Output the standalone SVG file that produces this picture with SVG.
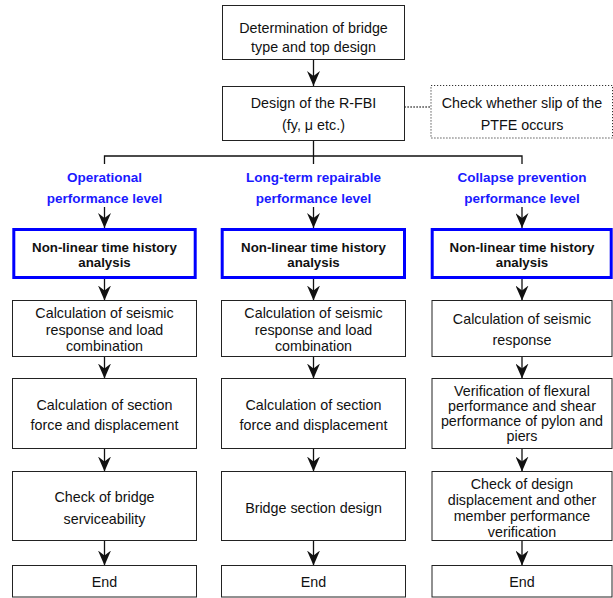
<svg xmlns="http://www.w3.org/2000/svg" width="613" height="598" viewBox="0 0 613 598">
<style>
.box{fill:#fff;stroke:#222;stroke-width:1}
.blue{fill:#fff;stroke:#0000ff;stroke-width:3}
.dot{fill:#fff;stroke:#333;stroke-width:1;stroke-dasharray:1.2 1.8}
.t{font-family:"Liberation Sans",Arial,sans-serif;font-size:14.3px;fill:#111;text-anchor:middle}
.b{font-family:"Liberation Sans",Arial,sans-serif;font-size:13.3px;font-weight:bold;fill:#111;text-anchor:middle}
.h{font-family:"Liberation Sans",Arial,sans-serif;font-size:13.5px;font-weight:bold;fill:#1a1aff;text-anchor:middle}
.ln{fill:none;stroke:#111;stroke-width:1.3}
.ar{fill:none;stroke:#111;stroke-width:1.3;marker-end:url(#ah)}
</style>
<defs>
<marker id="ah" markerUnits="userSpaceOnUse" markerWidth="15" markerHeight="13" viewBox="0 0 15 13" refX="15" refY="6.5" orient="auto">
<path d="M15,6.5 L0,0 L5,6.5 L0,13 Z" fill="#111"/>
</marker>
</defs>
<rect width="613" height="598" fill="#fff"/>
<g id="connectors">
<path class="ar" d="M313.5,59.5 V86"/>
<path class="ln" d="M404.5,107 H431" stroke-dasharray="1.2 1.8"/>
<path class="ln" d="M313.5,140.5 V164 M104.5,164 V156 H522 V164"/>
<path class="ar" d="M104.5,207 V228"/>
<path class="ar" d="M313.5,207 V228"/>
<path class="ar" d="M522,207 V228"/>
<path class="ar" d="M104.5,279 V300.5"/>
<path class="ar" d="M313.5,279 V300.5"/>
<path class="ar" d="M522,279 V300.5"/>
<path class="ar" d="M104.5,356.5 V378.5"/>
<path class="ar" d="M313.5,356.5 V378.5"/>
<path class="ar" d="M522,356.5 V378.5"/>
<path class="ar" d="M104.5,448.5 V471.5"/>
<path class="ar" d="M313.5,448.5 V471.5"/>
<path class="ar" d="M522,448.5 V471.5"/>
<path class="ar" d="M104.5,540.5 V565.5"/>
<path class="ar" d="M313.5,540.5 V565.5"/>
<path class="ar" d="M522,540.5 V565.5"/>
</g>
<g id="n-top">
<rect class="box" x="222.5" y="5.5" width="182" height="54"/>
<text class="t" x="313.5" y="33">Determination of bridge</text>
<text class="t" x="313.5" y="52">type and top design</text>
</g>
<g id="n-rfbi">
<rect class="box" x="222.5" y="86.5" width="182" height="54"/>
<text class="t" x="313.5" y="108">Design of the R-FBI</text>
<text class="t" x="313.5" y="130">(fy, μ etc.)</text>
</g>
<g id="n-ptfe">
<rect class="dot" x="431" y="85.5" width="181.5" height="52.5"/>
<text class="t" x="522" y="108">Check whether slip of the</text>
<text class="t" x="522" y="130">PTFE occurs</text>
</g>
<g id="h-op">
<text class="h" x="104.5" y="182">Operational</text>
<text class="h" x="104.5" y="203">performance level</text>
</g>
<g id="h-lt">
<text class="h" x="313.5" y="182">Long-term repairable</text>
<text class="h" x="313.5" y="203">performance level</text>
</g>
<g id="h-cp">
<text class="h" x="522" y="182">Collapse prevention</text>
<text class="h" x="522" y="203">performance level</text>
</g>
<g id="n-nl1">
<rect class="blue" x="13.8" y="229.5" width="181.4" height="48"/>
<text class="b" x="104.5" y="251.5">Non-linear time history</text>
<text class="b" x="104.5" y="266.5">analysis</text>
</g>
<g id="n-nl2">
<rect class="blue" x="222.2" y="229.5" width="182.3" height="48"/>
<text class="b" x="313.5" y="251.5">Non-linear time history</text>
<text class="b" x="313.5" y="266.5">analysis</text>
</g>
<g id="n-nl3">
<rect class="blue" x="432.2" y="229.5" width="179" height="48"/>
<text class="b" x="522" y="251.5">Non-linear time history</text>
<text class="b" x="522" y="266.5">analysis</text>
</g>
<g id="n-r1">
<rect class="box" x="12.5" y="300.5" width="184" height="56"/>
<text class="t" x="104.5" y="318">Calculation of seismic</text>
<text class="t" x="104.5" y="335">response and load</text>
<text class="t" x="104.5" y="351">combination</text>
</g>
<g id="n-r2">
<rect class="box" x="221.5" y="300.5" width="184" height="56"/>
<text class="t" x="313.5" y="318">Calculation of seismic</text>
<text class="t" x="313.5" y="335">response and load</text>
<text class="t" x="313.5" y="351">combination</text>
</g>
<g id="n-r3">
<rect class="box" x="432" y="300.5" width="180" height="56"/>
<text class="t" x="522" y="324">Calculation of seismic</text>
<text class="t" x="522" y="345">response</text>
</g>
<g id="n-s1">
<rect class="box" x="12.5" y="378.5" width="184" height="70"/>
<text class="t" x="104.5" y="410">Calculation of section</text>
<text class="t" x="104.5" y="430">force and displacement</text>
</g>
<g id="n-s2">
<rect class="box" x="221.5" y="378.5" width="184" height="70"/>
<text class="t" x="313.5" y="410">Calculation of section</text>
<text class="t" x="313.5" y="430">force and displacement</text>
</g>
<g id="n-s3">
<rect class="box" x="432" y="378.5" width="180" height="70"/>
<text class="t" x="522" y="396">Verification of flexural</text>
<text class="t" x="522" y="411">performance and shear</text>
<text class="t" x="522" y="426">performance of pylon and</text>
<text class="t" x="522" y="441">piers</text>
</g>
<g id="n-c1">
<rect class="box" x="12.5" y="471.5" width="184" height="69"/>
<text class="t" x="104.5" y="502">Check of bridge</text>
<text class="t" x="104.5" y="524">serviceability</text>
</g>
<g id="n-c2">
<rect class="box" x="221.5" y="471.5" width="184" height="69"/>
<text class="t" x="313.5" y="513">Bridge section design</text>
</g>
<g id="n-c3">
<rect class="box" x="432" y="471.5" width="180" height="69"/>
<text class="t" x="522" y="489">Check of design</text>
<text class="t" x="522" y="505">displacement and other</text>
<text class="t" x="522" y="521">member performance</text>
<text class="t" x="522" y="537">verification</text>
</g>
<g id="n-e1">
<rect class="box" x="12.5" y="565.5" width="184" height="31.5"/>
<text class="t" x="104.5" y="587">End</text>
</g>
<g id="n-e2">
<rect class="box" x="221.5" y="565.5" width="184" height="31.5"/>
<text class="t" x="313.5" y="587">End</text>
</g>
<g id="n-e3">
<rect class="box" x="432" y="565.5" width="180" height="31.5"/>
<text class="t" x="522" y="587">End</text>
</g>
</svg>
